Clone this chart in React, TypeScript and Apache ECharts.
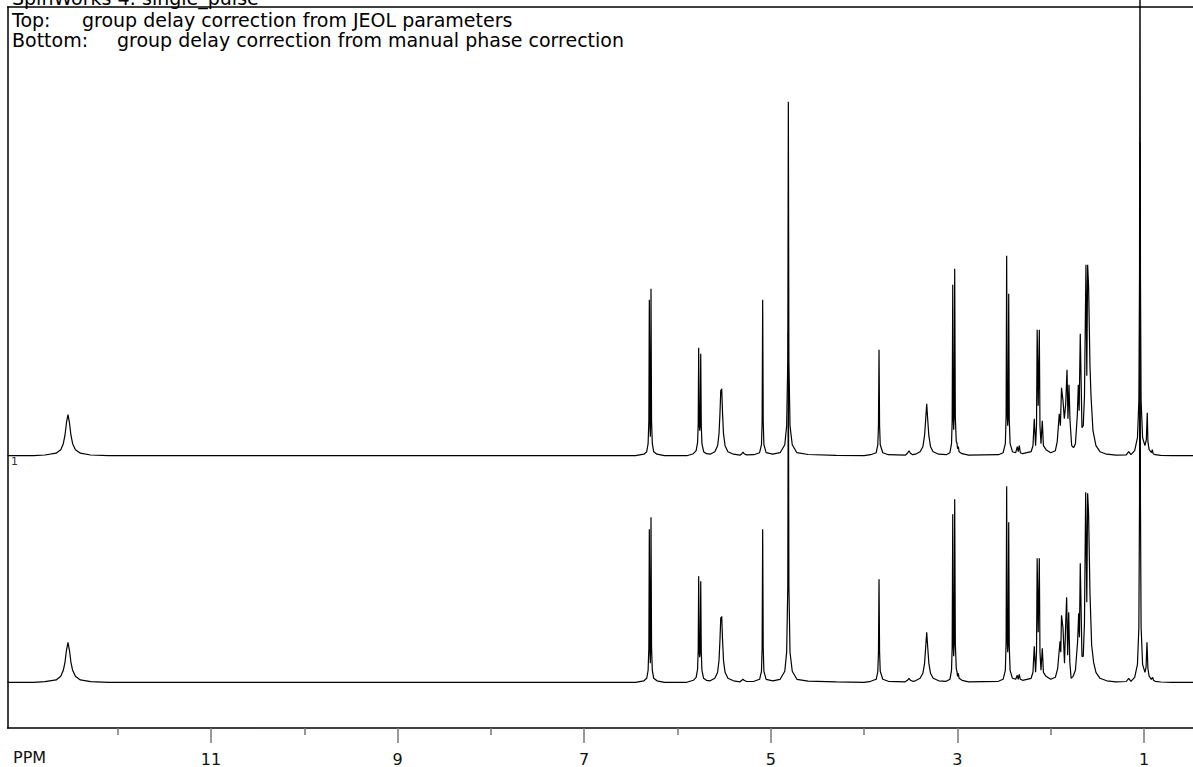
import React, { useEffect, useRef } from "react";
import * as echarts from "echarts";

const TITLE = "SpinWorks 4: single_pulse";
const LINE_TOP_LABEL = "Top:";
const LINE_TOP_TEXT = "group delay correction from JEOL parameters";
const LINE_BOTTOM_LABEL = "Bottom:";
const LINE_BOTTOM_TEXT = "group delay correction from manual phase correction";
const AXIS_NAME = "PPM";
const TRACE_LABEL = "1";

const PPM_MIN = 0.4748;
const PPM_MAX = 13.18;
const MAJOR_TICKS = [1, 3, 5, 7, 9, 11];
const MINOR_TICKS = [2, 4, 6, 8, 10, 12];

// [ppm, intensity]
const topTrace: number[][] = [
  [13.18, 0], [12.9, 0],
  [12.78, 0.7], [12.66, 2.5], [12.61, 6], [12.583, 12], [12.565, 20.5], [12.549, 33], [12.533, 41], [12.517, 33], [12.501, 20.5], [12.483, 12], [12.453, 6], [12.4, 2.5], [12.29, 0.7], [12.1, 0],
  [6.45, 0], [6.36, 1.5], [6.33, 4], [6.315, 12], [6.307, 35], [6.302, 156], [6.295, 30], [6.291, 19], [6.288, 35], [6.284, 167], [6.278, 35], [6.27, 12], [6.255, 4], [6.22, 1.5], [6.14, 0],
  [5.9, 0], [5.83, 2], [5.8, 5], [5.785, 13], [5.778, 32], [5.773, 108], [5.767, 30], [5.762, 25], [5.757, 30], [5.751, 102], [5.745, 30], [5.738, 12], [5.72, 4], [5.69, 2],
  [5.65, 1.5], [5.6, 4], [5.57, 10], [5.555, 22], [5.545, 42], [5.536, 66], [5.531, 64], [5.526, 67], [5.517, 42], [5.507, 22], [5.49, 10], [5.46, 4], [5.4, 1.5],
  [5.33, 0.5], [5.31, 2], [5.298, 3.5], [5.286, 2], [5.26, 0.8],
  [5.18, 1], [5.12, 3], [5.1, 11], [5.093, 34], [5.087, 156], [5.081, 34], [5.074, 11], [5.05, 3], [4.98, 1.5],
  [4.9, 3], [4.85, 11], [4.83, 30], [4.818, 95], [4.812, 354], [4.806, 95], [4.794, 30], [4.77, 11], [4.72, 3], [4.6, 1.2], [4.3, 0.4], [4.0, 0],
  [3.93, 1], [3.87, 3], [3.853, 11], [3.846, 30], [3.84, 106], [3.834, 30], [3.827, 11], [3.8, 3], [3.74, 1],
  [3.56, 0.5], [3.535, 2.5], [3.519, 5], [3.503, 2.5], [3.48, 1],
  [3.45, 1.5], [3.4, 4], [3.37, 9], [3.352, 20], [3.34, 36], [3.329, 52], [3.318, 36], [3.306, 20], [3.288, 9], [3.26, 4], [3.2, 1.5],
  [3.12, 1], [3.08, 3], [3.063, 12], [3.056, 35], [3.05, 171], [3.044, 38], [3.04, 26], [3.035, 38], [3.029, 187], [3.022, 38], [3.012, 14], [3.005, 13], [2.998, 7], [2.99, 9], [2.982, 4], [2.95, 2], [2.88, 0.5],
  [2.56, 1], [2.51, 3], [2.486, 12], [2.478, 40], [2.472, 200], [2.466, 42], [2.461, 30], [2.456, 38], [2.45, 162], [2.444, 36], [2.435, 12], [2.41, 4], [2.375, 3], [2.358, 9], [2.348, 4], [2.337, 10], [2.325, 3], [2.3, 2],
  [2.21, 4], [2.19, 10], [2.176, 37], [2.162, 10], [2.152, 30], [2.145, 126], [2.134, 50], [2.122, 126], [2.115, 30], [2.104, 12], [2.09, 35], [2.078, 10], [2.05, 6], [2.0, 3], [1.95, 5],
  [1.93, 14], [1.908, 42], [1.896, 30], [1.884, 68], [1.868, 55], [1.854, 37], [1.839, 52], [1.825, 86], [1.815, 37], [1.804, 71], [1.793, 35], [1.775, 10], [1.755, 8], [1.735, 12], [1.715, 40], [1.704, 71], [1.695, 45], [1.683, 122], [1.665, 28], [1.651, 30], [1.638, 60], [1.622, 191], [1.613, 80], [1.604, 191], [1.594, 170], [1.579, 90], [1.568, 60], [1.547, 25], [1.515, 10], [1.472, 4], [1.4, 1.5], [1.3, 0.5],
  [1.19, 0.8], [1.164, 4], [1.14, 1],
  [1.1, 5], [1.07, 18], [1.055, 55], [1.048, 180], [1.043, 540], [1.038, 180], [1.031, 55], [1.015, 18], [0.99, 10], [0.975, 16], [0.965, 43], [0.958, 14], [0.945, 6], [0.928, 4], [0.92, 3], [0.911, 6], [0.902, 2], [0.88, 1], [0.82, 0.3], [0.7, 0], [0.0, 0],
];

// [ppm, intensity]
const bottomTrace: number[][] = [
  [13.18, 0], [12.9, 0],
  [12.78, 0.7], [12.66, 2.4], [12.61, 6], [12.583, 12], [12.565, 20], [12.549, 32], [12.533, 40], [12.517, 32], [12.501, 20], [12.483, 12], [12.453, 6], [12.4, 2.4], [12.29, 0.7], [12.1, 0],
  [6.45, 0], [6.36, 1.5], [6.33, 4], [6.315, 12], [6.307, 35], [6.302, 153], [6.295, 30], [6.291, 19], [6.288, 35], [6.284, 165], [6.278, 35], [6.27, 12], [6.255, 4], [6.22, 1.5], [6.14, 0],
  [5.9, 0], [5.83, 2], [5.8, 5], [5.785, 13], [5.778, 32], [5.773, 106], [5.767, 30], [5.762, 25], [5.757, 30], [5.751, 101], [5.745, 30], [5.738, 12], [5.72, 4], [5.69, 2],
  [5.65, 1.5], [5.6, 4], [5.57, 10], [5.555, 22], [5.545, 42], [5.536, 65], [5.531, 63], [5.526, 66], [5.517, 42], [5.507, 22], [5.49, 10], [5.46, 4], [5.4, 1.5],
  [5.33, 0.5], [5.31, 2], [5.298, 3], [5.286, 2], [5.26, 0.8],
  [5.18, 1], [5.12, 3], [5.1, 11], [5.093, 34], [5.087, 153], [5.081, 34], [5.074, 11], [5.05, 3], [4.98, 1.5],
  [4.9, 3], [4.85, 11], [4.83, 30], [4.818, 95], [4.812, 350], [4.806, 95], [4.794, 30], [4.77, 11], [4.72, 3], [4.6, 1.2], [4.3, 0.4], [4.0, 0],
  [3.93, 1], [3.87, 3], [3.853, 11], [3.846, 30], [3.84, 103], [3.834, 30], [3.827, 11], [3.8, 3], [3.74, 1],
  [3.56, 0.5], [3.535, 2], [3.519, 4], [3.503, 2], [3.48, 1],
  [3.45, 1.5], [3.4, 4], [3.37, 9], [3.352, 19], [3.34, 35], [3.329, 50], [3.318, 35], [3.306, 19], [3.288, 9], [3.26, 4], [3.2, 1.5],
  [3.12, 1], [3.08, 3], [3.063, 12], [3.056, 35], [3.05, 168], [3.044, 38], [3.04, 26], [3.035, 38], [3.029, 183], [3.022, 38], [3.012, 14], [3.005, 11], [2.998, 6], [2.99, 9], [2.982, 4], [2.95, 2], [2.88, 0.5],
  [2.56, 1], [2.51, 3], [2.486, 12], [2.478, 40], [2.472, 196], [2.466, 42], [2.461, 30], [2.456, 38], [2.45, 160], [2.444, 36], [2.435, 12], [2.41, 4], [2.375, 3], [2.358, 7], [2.348, 3], [2.337, 8], [2.325, 3], [2.3, 2],
  [2.21, 4], [2.19, 10], [2.176, 36], [2.162, 10], [2.152, 30], [2.145, 124], [2.134, 50], [2.122, 124], [2.115, 30], [2.104, 12], [2.09, 34], [2.078, 10], [2.05, 6], [2.0, 3], [1.95, 5],
  [1.925, 14], [1.9, 41], [1.892, 30], [1.884, 67], [1.868, 54], [1.852, 19], [1.839, 59], [1.829, 85], [1.818, 27], [1.807, 70], [1.795, 20], [1.781, 4], [1.76, 6], [1.735, 12], [1.712, 40], [1.7, 69], [1.692, 45], [1.683, 119], [1.665, 26], [1.651, 26], [1.638, 60], [1.625, 190], [1.613, 80], [1.604, 189], [1.594, 169], [1.579, 89], [1.561, 37], [1.54, 20], [1.515, 10], [1.472, 4], [1.4, 1.5], [1.3, 0.5],
  [1.19, 0.8], [1.164, 4], [1.14, 1],
  [1.1, 5], [1.07, 18], [1.055, 55], [1.048, 180], [1.043, 540], [1.038, 180], [1.031, 55], [1.015, 18], [0.99, 10], [0.978, 15], [0.968, 40], [0.958, 14], [0.945, 6], [0.936, 5], [0.922, 3], [0.907, 5], [0.898, 2], [0.88, 1], [0.82, 0.3], [0.7, 0], [0.0, 0],
];

const FONT = '"DejaVu Sans", Verdana, sans-serif';

export default function App() {
  const ref = useRef<HTMLDivElement>(null);
  useEffect(() => {
    if (!ref.current) return;
    const chart = echarts.init(ref.current, null, { renderer: "svg" });
    const gridTop = 7;
    const gridHeight = 721;
    const gridBottomY = gridTop + gridHeight;
    const bottomBase = 682.3;
    const topBase = 455.7;
    const axisRange = (base: number) => {
      const min = -(gridBottomY - base);
      return { min, max: min + gridHeight };
    };
    const yb = axisRange(bottomBase);
    const yt = axisRange(topBase);
    const frameLine = { color: "#000", width: 1.5 };
    const tickLine = { color: "#777", width: 1.5 };
    const text = (t: string, x: number, y: number, size: number, fill = "#000") => ({
      type: "text",
      x,
      y,
      silent: true,
      z: 100,
      style: { text: t, fill, fontSize: size, fontFamily: FONT, verticalAlign: "middle", align: "left" },
    });
    chart.setOption({
      animation: false,
      backgroundColor: "#ffffff",
      grid: { left: 7.6, top: gridTop, right: 0, height: gridHeight, show: false },
      xAxis: [
        {
          type: "value",
          min: PPM_MIN,
          max: PPM_MAX,
          inverse: true,
          position: "bottom",
          axisLine: { show: true, onZero: false, lineStyle: frameLine },
          splitLine: { show: false },
          axisTick: { show: true, customValues: MAJOR_TICKS, length: 15, lineStyle: tickLine },
          axisLabel: { customValues: MAJOR_TICKS, margin: 23, fontSize: 16, fontFamily: FONT, color: "#111" },
        },
        {
          type: "value",
          min: PPM_MIN,
          max: PPM_MAX,
          inverse: true,
          position: "bottom",
          axisLine: { show: false, onZero: false },
          splitLine: { show: false },
          axisTick: { show: true, customValues: MINOR_TICKS, length: 7, lineStyle: tickLine },
          axisLabel: { show: false },
        },
        {
          type: "value",
          min: PPM_MIN,
          max: PPM_MAX,
          inverse: true,
          position: "top",
          axisLine: { show: true, onZero: false, lineStyle: frameLine },
          splitLine: { show: false },
          axisTick: { show: false },
          axisLabel: { show: false },
        },
      ],
      yAxis: [
        {
          type: "value",
          min: yb.min,
          max: yb.max,
          position: "left",
          axisLine: { show: true, onZero: false, lineStyle: frameLine },
          axisTick: { show: false },
          axisLabel: { show: false },
          splitLine: { show: false },
        },
        { type: "value", min: yt.min, max: yt.max, show: false, splitLine: { show: false } },
      ],
      series: [
        {
          type: "line",
          name: "Bottom",
          data: bottomTrace,
          xAxisIndex: 0,
          yAxisIndex: 0,
          showSymbol: false,
          symbol: "none",
          clip: false,
          lineStyle: { color: "#000", width: 1.2 },
        },
        {
          type: "line",
          name: "Top",
          data: topTrace,
          xAxisIndex: 0,
          yAxisIndex: 1,
          showSymbol: false,
          symbol: "none",
          clip: false,
          lineStyle: { color: "#000", width: 1.2 },
        },
      ],
      graphic: [
        text(TITLE, 12, -1.6, 19),
        text(LINE_TOP_LABEL, 12, 20.4, 19),
        text(LINE_TOP_TEXT, 82, 20.4, 19),
        text(LINE_BOTTOM_LABEL, 12, 40.4, 19),
        text(LINE_BOTTOM_TEXT, 117, 40.4, 19),
        text(AXIS_NAME, 13, 757.5, 16, "#111"),
        text(TRACE_LABEL, 11, 461, 11, "#333"),
      ],
    });
    return () => chart.dispose();
  }, []);
  return (
    <div
      ref={ref}
      style={{ position: "fixed", left: 0, top: 0, width: 1193, height: 767, background: "#fff" }}
    />
  );
}
